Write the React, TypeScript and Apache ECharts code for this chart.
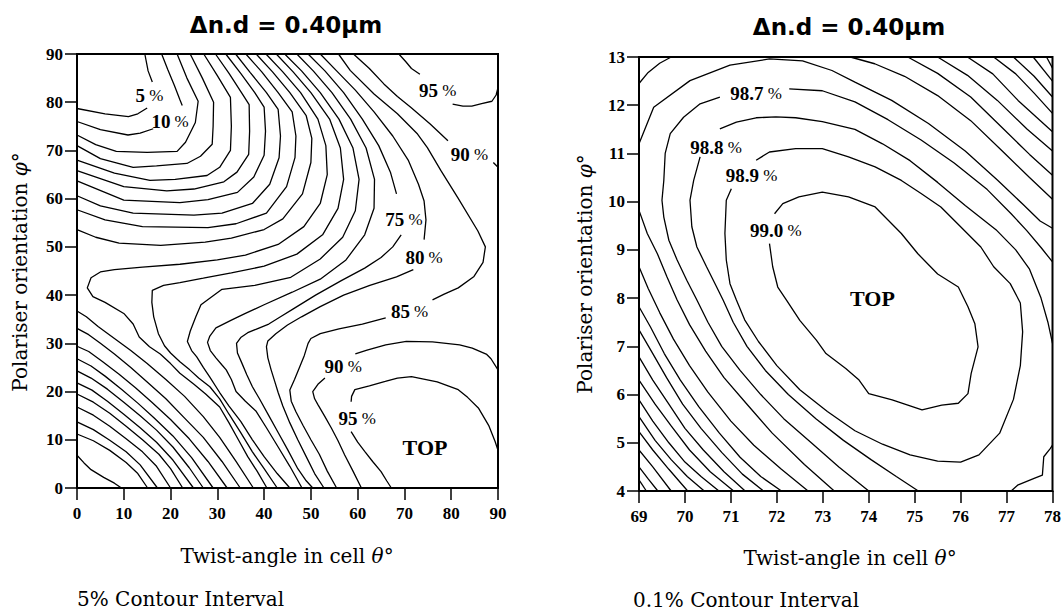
import React, { useEffect, useRef } from "react";
import * as echarts from "echarts";

// ---------- LEFT PANEL (theta 0-90, phi 0-90), 5% contours ----------
const leftXTicks = [0, 10, 20, 30, 40, 50, 60, 70, 80, 90];
const leftYTicks = [0, 10, 20, 30, 40, 50, 60, 70, 80, 90];

// upper-left valley (top edge -> left edge)
const c05a = [[14.5, 90], [15.2, 86.5], [16.1, 84.2]];
const c05b = [[15, 78.8], [13, 77.6], [11, 77], [6, 77.6], [0, 78.7]];
const c10a = [[18.1, 90], [19.4, 86.8], [20.8, 83.5], [22, 80.5], [22.5, 79.3]];
const c10b = [[16.3, 74.5], [13.5, 73.6], [10.9, 73.2], [5, 74.3], [0, 76]];
const c15 = [[21.4, 90], [23.5, 85], [25.9, 80.2], [25.3, 75.8], [23.2, 71.7], [21.4, 69.8], [15, 69.6], [8.4, 69.8], [4, 71.2], [0, 73.2]];
const c20 = [[24.2, 90], [26.8, 85], [29.2, 80], [29.1, 75], [28.9, 71.3], [26.4, 68.8], [23.5, 67.3], [17, 66.8], [12, 66.5], [5, 68.3], [0, 71]];
const c25 = [[27.1, 90], [30, 85.5], [32.8, 81], [33, 75], [32.8, 70], [30.5, 66.5], [27.8, 64.8], [21, 64], [15.6, 63.8], [8, 65.3], [0, 68]];
const c30 = [[29.6, 90], [32.5, 86], [35.3, 81.8], [36.8, 79.5], [36.9, 74], [36.7, 69.2], [34.2, 65.5], [31.4, 63.5], [25, 62], [19.2, 61.6], [10, 62.5], [0, 65.8]];
const c35 = [[31.8, 90], [35, 86], [38, 82], [40, 79], [40.3, 74], [40, 69], [37.8, 64.5], [34.3, 61.3], [28, 59.8], [22, 59.2], [10, 59.7], [0, 63.7]];
const c40 = [[33.9, 90], [37, 86.2], [40.5, 82], [43, 78.5], [43.5, 73], [43.2, 68.5], [41.2, 63], [37.5, 59], [31, 57], [25, 56.6], [12, 57], [5, 58.5], [0, 60.6]];
const c45 = [[36.1, 90], [39.5, 86.3], [43, 82], [46, 78], [46.8, 73], [46.6, 68.5], [44.8, 62.5], [40.5, 57], [34, 54.8], [28, 54], [14, 54.2], [6, 55.6], [0, 57.7]];
const c50 = [[38.3, 90], [41.8, 86.3], [45.5, 82], [49, 77.2], [50.2, 72.5], [50, 67.5], [48.2, 61], [44, 55.8], [40, 53.6], [33, 51.8], [27.4, 51], [17.9, 50.3], [9, 50.8], [4, 52], [0, 53.6]];

// saddle and "<"-shaped contours (top edge -> bottom edge)
const c55 = [[40.4, 90], [44, 86.3], [47.8, 82], [51.5, 76.5], [53.2, 71], [53.5, 65], [52, 59], [48.5, 54.2], [43, 50.5], [36, 48.3], [30, 47.3], [22, 46.4], [14, 45.8], [8, 45.3], [5, 44.8], [3, 43.6], [2.2, 41.5], [3.4, 39.7], [6, 38.5], [10, 36.2], [12, 34], [13.3, 31.3], [15.5, 29.3], [17.8, 27.8], [20, 25.8], [22, 23.8], [25, 21.5], [27.5, 19.5], [30.5, 16.8], [32.5, 13.5], [34.5, 10], [36.5, 6.5], [38.5, 3.5], [40.6, 0]];
const c60 = [[42.6, 90], [46.2, 86.3], [50, 82], [54, 76.5], [56.3, 70.5], [57, 64], [55.8, 58], [52.5, 52.5], [47, 48.5], [40, 46], [33, 44.6], [27, 43.5], [22, 42.6], [18.5, 42], [16.1, 41], [16, 38.5], [16.4, 35.5], [17.4, 32], [18.7, 29.5], [20, 28], [22, 26.2], [24.1, 24.5], [26, 22.8], [28.4, 21], [30.5, 18.5], [32.5, 15.3], [35, 11.5], [37.5, 7.5], [40, 4], [42.8, 0]];
const c65 = [[44.4, 90], [48, 86.5], [52, 82], [56, 76.5], [59, 70.5], [60.3, 64], [59.5, 57.5], [56.8, 52], [52, 47.5], [45.7, 43.7], [38, 42], [31, 41.2], [28.6, 39.5], [26.5, 38], [25.4, 35.5], [24.2, 32.5], [23.6, 30.4], [24.5, 28.5], [25.6, 27.2], [27, 25], [28.4, 23], [30.5, 19.8], [32.5, 17], [35, 13.8], [37.5, 10], [40, 6.5], [42.8, 3], [45.5, 0]];
const c70 = [[47, 90], [50.5, 86.5], [54.5, 82], [58.5, 76.5], [61.8, 70.5], [63.6, 64], [63.5, 58], [61.5, 52.5], [57.5, 47.3], [52, 43.3], [46, 40.6], [40, 38], [36, 36.2], [33, 34.8], [29.7, 33.2], [28.4, 31.5], [27.9, 30.2], [28.5, 28.5], [29.7, 27], [31, 25.5], [31.9, 24.5], [33, 22.5], [34, 20], [36, 18], [38.3, 15.9], [40.5, 12.5], [43, 8.5], [45.5, 4.5], [48.1, 0]];
const c75a = [[49.4, 90], [53, 86.5], [57, 82], [61, 76.5], [64.5, 71], [67, 65.5], [68.3, 61]];
const c75b = [[69.3, 52.5], [67.5, 50], [65, 47.8], [61.5, 45.6], [56.5, 43], [51, 40], [46.5, 37.3], [43.5, 35.5], [41, 34], [38.5, 33], [36.5, 32.2], [35, 31.2], [34.1, 30], [34.3, 28], [35.2, 26], [36.3, 23.5], [37.5, 21], [39, 18.5], [41, 15], [43, 11.5], [45, 8], [47.2, 4], [49, 1.5], [50.4, 0]];
const c80a = [[52, 90], [55.5, 86.5], [59.5, 82.5], [63.5, 78], [67.5, 73], [70.8, 68], [73, 63], [74.2, 59.5], [74.6, 55.6], [74.2, 51.5]];
const c80b = [[71.9, 45.3], [68.3, 43.8], [62.6, 42], [57, 40], [52, 37.6], [48, 35.5], [45, 33.8], [42.5, 32], [40.8, 30.5], [40.5, 29.3], [40.8, 27], [41.5, 24.5], [42.3, 22], [43, 19.8], [44, 17], [45.5, 13.5], [47.2, 10], [49, 6.5], [50.8, 3], [52.8, 0]];
const c85a = [[55.9, 90], [58.4, 86.6], [63.5, 81.7], [68.5, 77.6], [72.8, 73.4], [74.9, 70.6], [77.8, 65.8], [81.4, 60.2], [85.7, 53.3], [87.3, 50], [86.8, 46.8], [84.8, 43.8], [81.5, 41.5], [78.5, 40.2], [76, 39]];
const c85b = [[66, 35.3], [61, 34], [56, 33], [52, 32], [50, 31], [49.4, 30], [48.6, 27.5], [47.6, 25.1], [46.5, 22.5], [45.5, 20.3], [45.8, 18], [46.8, 15.8], [48.3, 13], [50, 10], [51.8, 7], [53.5, 3.5], [55.5, 0]];
const c90a = [[59.1, 90], [62.5, 87], [65.6, 83.8], [68.5, 81.2], [71.4, 78.9], [75.5, 75.5], [79.3, 72]];
const c90b = [[89, 67.5], [90, 66.5]];
const c90c = [[90, 24.5], [88.5, 26.8], [87.6, 27.7], [84.5, 29], [81.8, 29.7], [76, 30.3], [70.4, 30.4], [66, 29.7], [62, 28.6], [59.5, 27.8]];
const c90d = [[53, 22.8], [51.5, 21.5], [50.4, 20], [50.8, 18.5], [51.5, 17.3], [53, 14.8], [54.4, 12.4], [55.8, 9.8], [57.2, 6.9], [59, 3.5], [60.8, 0]];
const c95a = [[68.8, 90], [70.3, 88.4], [71.5, 87], [73.3, 85.8]];
const c95b = [[80.3, 79.6], [82.5, 79.2], [84.4, 79.2], [86.5, 79.7], [88.7, 80.2], [89.6, 81.5], [90, 83]];
const c95c = [[90, 7.8], [89.4, 9.6], [88, 13], [85.8, 16.6], [83.5, 18.8], [81.5, 20.4], [77, 22], [71.5, 23.1], [68.5, 22.8], [65.9, 22.1], [62.5, 21.2], [59.4, 20.4], [58.7, 19], [58.6, 17.9]];
const c95d = [[58.6, 11.7], [60, 9.5], [61.5, 7.6], [63.2, 5.5], [65, 3.4], [66.2, 1.5], [67.2, 0]];

// lower-left valley (left edge -> bottom edge)
const d01 = [[0, 36.7], [2, 35.5], [4.5, 33.5], [8, 31], [11.5, 28.5], [15, 25.8], [19, 22.5], [23, 19], [27, 14.8], [30.5, 10.5], [34, 5.5], [37.7, 0]];
const d02 = [[0, 33.1], [2.5, 31.8], [5, 30], [8, 27.8], [11.5, 25], [15, 22], [19, 18.5], [23, 14.5], [27, 10.5], [31, 5.5], [34.9, 0]];
const d03 = [[0, 29.4], [2.5, 28.3], [5.5, 26.2], [9, 23.6], [12.5, 20.8], [16, 17.8], [20, 14.2], [24, 10.2], [28, 5.5], [32.1, 0]];
const d04 = [[0, 26.8], [3, 25.3], [6, 23.2], [9.5, 20.5], [13, 17.6], [16.5, 14.5], [20.5, 10.8], [24.5, 6.3], [29.1, 0]];
const d05 = [[0, 24.3], [3, 22.8], [6.5, 20.5], [10, 17.8], [13.5, 15], [17, 12], [20.5, 8.5], [24, 4.2], [27, 0]];
const d06 = [[0, 21.8], [3.2, 20.3], [6.5, 18], [10, 15.3], [13.5, 12.5], [17, 9.5], [20.5, 5.8], [24.9, 0]];
const d07 = [[0, 19.5], [3.5, 17.8], [7, 15.5], [10.5, 12.8], [14, 10], [17.5, 7], [20, 4], [22.6, 0]];
const d08 = [[0, 16.8], [3.5, 15.1], [7, 12.8], [10.5, 10.2], [14, 7.5], [17, 4.5], [20, 0]];
const d09 = [[0, 13.7], [3.5, 12.1], [7, 9.9], [10.5, 7.5], [13.5, 4.8], [17.2, 0]];
const d10 = [[0, 11.2], [3.5, 9.8], [7, 7.8], [10.5, 5.3], [13, 3], [15.1, 0]];
const d11 = [[0, 6.8], [1.5, 5.2], [3, 3.8], [5.7, 2.2], [8, 1], [9.5, 0]];

const leftLabelPos = [[15.5, 81.3], [19.9, 76.1], [77.1, 82.4], [83.9, 69.2], [69.9, 55.7], [74.2, 47.7], [71.1, 36.5], [56.9, 25.2], [59.9, 14.5], [74.4, 8.4]];
const leftLabelText = ["5", "10", "95", "90", "75", "80", "85", "90", "95", "TOP"];

// ---------- RIGHT PANEL (theta 69-78, phi 4-13), 0.1% contours ----------
const rightXTicks = [69, 70, 71, 72, 73, 74, 75, 76, 77, 78];
const rightYTicks = [4, 5, 6, 7, 8, 9, 10, 11, 12, 13];

const r990 = [[71.95, 9.75], [72.13, 9.96], [72.48, 10.1], [72.99, 10.2], [73.56, 10.1], [74.14, 9.89], [74.71, 9.34], [75.07, 8.92], [75.5, 8.5], [75.95, 8.23], [76.16, 7.82], [76.31, 7.47], [76.38, 6.99], [76.23, 6.44], [76.16, 6.02], [75.95, 5.82], [75.59, 5.78], [75.16, 5.68], [74.51, 5.89], [74, 6.02], [73.79, 6.3], [73.5, 6.54], [73.07, 6.85], [72.86, 7.13], [72.5, 7.54], [72.21, 7.96], [72.02, 8.23], [71.91, 8.65], [71.84, 9.13]];
const r989 = [[71.55, 10.86], [71.84, 11.03], [72.41, 11.1], [72.99, 11.1], [73.56, 10.93], [74.14, 10.72], [74.71, 10.44], [75.14, 10.17], [75.57, 9.89], [76, 9.48], [76.44, 9.06], [76.72, 8.65], [77.08, 8.3], [77.3, 7.9], [77.35, 7.3], [77.3, 6.6], [77.15, 5.9], [76.85, 5.2], [76.4, 4.75], [76, 4.6], [75.5, 4.62], [74.9, 4.75], [74.3, 4.97], [73.7, 5.25], [73.1, 5.65], [72.5, 6.1], [72, 6.6], [71.6, 7.1], [71.3, 7.55], [71.12, 7.96], [70.98, 8.3], [70.9, 8.79], [70.87, 9.34], [70.9, 10.03], [71.01, 10.27]];
const r988a = [[70.76, 11.51], [71.12, 11.65], [71.55, 11.74], [71.98, 11.76], [72.41, 11.74], [72.99, 11.66], [73.7, 11.5], [74.3, 11.2], [74.9, 10.85], [75.5, 10.4], [76.1, 9.92], [76.79, 9.4], [77.2, 9.0], [77.5, 8.6], [77.75, 8.0], [77.9, 7.5], [78, 7.06]];
const r988b = [[70.33, 10.93], [70.19, 10.44], [70.11, 10.03], [70.15, 9.48], [70.26, 9.06], [70.47, 8.65], [70.69, 8.23], [70.83, 7.96], [71.05, 7.5], [71.35, 7], [71.75, 6.5], [72.25, 6], [72.85, 5.5], [73.45, 5.05], [74.05, 4.65], [74.6, 4.3], [75.08, 4]];
const r988c = [[77.1, 4], [77.24, 4.12], [77.6, 4.26], [77.78, 4.33], [77.81, 4.71], [77.95, 4.88], [78, 4.95]];
const r987a = [[70.76, 12.17], [70.33, 12.03], [69.97, 11.75], [69.68, 11.41], [69.57, 11], [69.54, 10.44], [69.5, 10.03], [69.54, 9.68], [69.65, 9.2], [69.83, 8.79], [70.04, 8.37], [70.26, 7.96], [70.5, 7.5], [70.8, 7], [71.2, 6.5], [71.65, 6], [72.15, 5.5], [72.75, 5], [73.35, 4.5], [74, 4]];
const r987b = [[72.27, 12.34], [72.99, 12.3], [73.7, 12.07], [74.42, 11.7], [75.14, 11.28], [75.86, 10.8], [76.58, 10.25], [77.1, 9.75], [77.44, 9.4], [77.75, 9.05], [78, 8.75]];
const r986a = [[69, 11.2], [69.32, 11.96], [70.11, 12.51], [70.98, 12.83], [71.84, 12.96], [72.56, 12.92], [73.2, 12.72], [73.7, 12.48], [74.5, 12.1], [75.3, 11.62], [76.1, 11.05], [76.8, 10.45], [77.35, 9.95], [77.73, 9.6], [78, 9.45]];
const r986b = [[69, 9.82], [69.18, 9.34], [69.4, 8.92], [69.61, 8.44], [69.83, 7.96], [70.1, 7.45], [70.45, 6.9], [70.85, 6.35], [71.35, 5.8], [71.9, 5.2], [72.6, 4.55], [73.25, 4]];
const r985a = [[69, 12.45], [69.2, 12.68], [69.45, 12.87], [69.7, 13]];
const r985b = [[69, 8.65], [69.2, 8.2], [69.45, 7.7], [69.75, 7.15], [70.1, 6.6], [70.5, 6.05], [71, 5.45], [71.5, 4.95], [72.1, 4.45], [72.68, 4]];
const r985c = [[73.6, 13], [74.13, 12.86], [74.78, 12.6], [75.5, 12.2], [76.22, 11.68], [76.94, 11.02], [77.5, 10.5], [78, 10.05]];
const r984 = [[69, 7.82], [69.25, 7.4], [69.55, 6.85], [69.9, 6.3], [70.3, 5.75], [70.75, 5.2], [71.2, 4.7], [71.65, 4.3], [72.1, 4]];
const r983 = [[69, 7.34], [69.3, 6.85], [69.6, 6.35], [69.95, 5.8], [70.35, 5.3], [70.8, 4.8], [71.25, 4.35], [71.71, 4]];
const r982 = [[69, 6.78], [69.3, 6.3], [69.65, 5.8], [70, 5.3], [70.4, 4.85], [70.85, 4.4], [71.31, 4]];
const r981 = [[69, 6.3], [69.35, 5.8], [69.7, 5.35], [70.1, 4.85], [70.55, 4.4], [71.06, 4]];
const r980 = [[69, 5.89], [69.3, 5.45], [69.65, 5], [70, 4.6], [70.35, 4.3], [70.74, 4]];
const r979 = [[69, 5.54], [69.35, 5.05], [69.7, 4.65], [70.05, 4.3], [70.42, 4]];
const r978 = [[69, 5.23], [69.3, 4.85], [69.65, 4.45], [70.06, 4]];
const r977 = [[69, 4.85], [69.3, 4.5], [69.7, 4]];
const r976 = [[69, 4.5], [69.2, 4.25], [69.41, 4]];
const r975 = [[69, 4.23], [69.16, 4]];
const t01 = [[74.85, 13], [75.5, 12.66], [76.22, 12.17], [76.94, 11.5], [77.5, 10.98], [78, 10.55]];
const t02 = [[75.5, 13], [76.15, 12.62], [76.8, 12.1], [77.45, 11.5], [78, 11.05]];
const t03 = [[76.15, 13], [76.7, 12.65], [77.25, 12.1], [78, 11.45]];
const t04 = [[76.72, 13], [77.2, 12.65], [77.6, 12.25], [78, 11.83]];
const t05 = [[77.15, 13], [77.6, 12.6], [78, 12.17]];
const t06 = [[77.58, 13], [78, 12.5]];
const t07 = [[77.87, 13], [78, 12.77]];

const rightLabelPos = [[71.55, 12.25], [70.68, 11.13], [71.45, 10.55], [71.98, 9.4], [74.08, 8.0]];
const rightLabelText = ["98.7", "98.8", "98.9", "99.0", "TOP"];

const leftSegs = [c05a, c05b, c10a, c10b, c15, c20, c25, c30, c35, c40, c45, c50, c55, c60, c65, c70, c75a, c75b, c80a, c80b, c85a, c85b, c90a, c90b, c90c, c90d, c95a, c95b, c95c, c95d, d01, d02, d03, d04, d05, d06, d07, d08, d09, d10, d11];
const rightSegs = [r990, r989, r988a, r988b, r988c, r987a, r987b, r986a, r986b, r985a, r985b, r985c, r984, r983, r982, r981, r980, r979, r978, r977, r976, r975, t01, t02, t03, t04, t05, t06, t07];

const SERIF = '"Liberation Serif", "Times New Roman", serif';
const WSERIF = '"DejaVu Serif", serif';

function lineSeries(d: number[][], idx: number) {
  return {
    type: "line",
    xAxisIndex: idx,
    yAxisIndex: idx,
    data: d,
    symbol: "none",
    showSymbol: false,
    silent: true,
    lineStyle: { color: "#000", width: 1.3 },
    z: 3,
  };
}

const richBase = { textBorderWidth: 0, textShadowBlur: 0, color: "#000" };

function labelSeries(pos: number[][], txt: string[], idx: number) {
  return {
    type: "scatter",
    xAxisIndex: idx,
    yAxisIndex: idx,
    symbolSize: 1,
    silent: true,
    itemStyle: { color: "rgba(0,0,0,0)", opacity: 1 },
    data: pos.map((p, i) => ({ value: p, name: txt[i] })),
    label: {
      show: true,
      position: "inside",
      color: "#000",
      opacity: 1,
      textBorderWidth: 0,
      textBorderColor: "rgba(0,0,0,0)",
      formatter: (p: any) => (p.name === "TOP" ? "{t|TOP}" : `{b|${p.name}}{p| %}`),
      rich: {
        b: { ...richBase, fontFamily: SERIF, fontWeight: "bold", fontSize: 19 },
        p: { ...richBase, fontFamily: SERIF, fontSize: 17 },
        t: { ...richBase, fontFamily: SERIF, fontWeight: "bold", fontSize: 22 },
      },
    },
    z: 5,
  };
}

function makeXAxis(idx: number, ticks: number[]) {
  return {
    gridIndex: idx,
    type: "value",
    min: ticks[0],
    max: ticks[ticks.length - 1],
    interval: ticks[1] - ticks[0],
    axisLine: { show: true, onZero: false, lineStyle: { color: "#000", width: 2 } },
    axisTick: { show: true, inside: false, length: 12, lineStyle: { color: "#000", width: 1.5 } },
    axisLabel: { color: "#000", fontFamily: SERIF, fontWeight: "bold", fontSize: 17, margin: 17 },
    splitLine: { show: false },
  };
}

function makeYAxis(idx: number, ticks: number[]) {
  return {
    gridIndex: idx,
    type: "value",
    min: ticks[0],
    max: ticks[ticks.length - 1],
    interval: ticks[1] - ticks[0],
    axisLine: { show: true, onZero: false, lineStyle: { color: "#000", width: 2 } },
    axisTick: { show: true, inside: false, length: 12, lineStyle: { color: "#000", width: 1.5 } },
    axisLabel: { color: "#000", fontFamily: SERIF, fontWeight: "bold", fontSize: 17, margin: 14 },
    splitLine: { show: false },
  };
}

function txt(x: number, y: number, text: string, font: any, align = "center", rotation = 0, rich?: any) {
  return {
    type: "text",
    x,
    y,
    rotation,
    silent: true,
    style: {
      text,
      fill: "#000",
      ...font,
      align,
      textAlign: align,
      verticalAlign: "middle",
      textVerticalAlign: "middle",
      rich,
    },
  };
}

const nameFont = { fontFamily: WSERIF, fontSize: 20 };
const nameRich = {
  i: { fontFamily: WSERIF, fontSize: 20, fontStyle: "italic", fill: "#000" },
};
const titleFont = { fontFamily: '"DejaVu Sans", sans-serif', fontWeight: "bold", fontSize: 23 };

export default function App() {
  const ref = useRef<HTMLDivElement>(null);
  useEffect(() => {
    const chart = echarts.init(ref.current!, null, { renderer: "svg" });
    const option: any = {
      animation: false,
      backgroundColor: "#fff",
      grid: [
        { left: 77, top: 54, width: 421, height: 434, show: true, borderColor: "#000", borderWidth: 2, backgroundColor: "transparent" },
        { left: 639, top: 57, width: 418, height: 434, show: true, borderColor: "#000", borderWidth: 2, backgroundColor: "transparent" },
      ],
      xAxis: [makeXAxis(0, leftXTicks), makeXAxis(1, rightXTicks)],
      yAxis: [makeYAxis(0, leftYTicks), makeYAxis(1, rightYTicks)],
      series: [
        ...leftSegs.map((d) => lineSeries(d, 0)),
        ...rightSegs.map((d) => lineSeries(d, 1)),
        labelSeries(leftLabelPos, leftLabelText, 0),
        labelSeries(rightLabelPos, rightLabelText, 1),
      ],
      graphic: [
        txt(286, 25, "Δn.d = 0.40μm", titleFont),
        txt(849, 27, "Δn.d = 0.40μm", titleFont),
        txt(20, 272, "Polariser orientation {i|φ}°", nameFont, "center", Math.PI / 2, nameRich),
        txt(585, 274, "Polariser orientation {i|φ}°", nameFont, "center", Math.PI / 2, nameRich),
        txt(287, 556, "Twist-angle in cell {i|θ}°", nameFont, "center", 0, nameRich),
        txt(850, 558, "Twist-angle in cell {i|θ}°", nameFont, "center", 0, nameRich),
        txt(77, 599, "5% Contour Interval", { fontFamily: WSERIF, fontSize: 20 }, "left"),
        txt(633, 600, "0.1% Contour Interval", { fontFamily: WSERIF, fontSize: 20 }, "left"),
      ],
    };
    chart.setOption(option);
    return () => chart.dispose();
  }, []);
  return <div ref={ref} style={{ position: "absolute", left: 0, top: 0, width: 1064, height: 613 }} />;
}
